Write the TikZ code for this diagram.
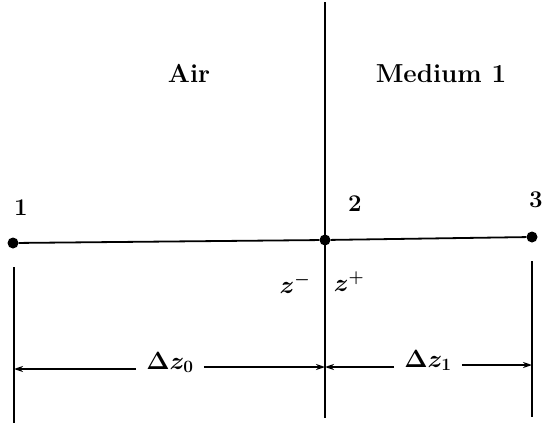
\documentclass[tikz,border=0pt]{standalone}
\usetikzlibrary{arrows.meta}
\begin{document}
\begin{tikzpicture}[x=1pt,y=-1pt,
  lbl/.style={inner sep=0pt,font=\fontsize{26}{30}\selectfont\bfseries},
  num/.style={inner sep=0pt,font=\fontsize{24}{28}\selectfont\bfseries},
  mth/.style={inner sep=0pt,font=\fontsize{25}{28}\selectfont\boldmath},
  dotp/.style={circle,fill=black,inner sep=0pt,minimum size=11pt},
  thick line/.style={line width=2.4pt},
  thin line/.style={line width=1.8pt},
  dim/.style={line width=1.5pt,-{Stealth[length=9pt,width=6pt]}}]
\useasboundingbox (0,0) rectangle (544,423);
% main interface line
\coordinate (top) at (325,2);
\coordinate (bot) at (325,418);
\draw[thick line] (top) -- (bot);
% points
\node[dotp] (p1) at (13,243) {};
\node[dotp] (p2) at (325,240) {};
\node[dotp] (p3) at (532,237) {};
\draw[thin line] (p1) -- (p2) -- (p3);
\node[num] (n1) at (21,208) {1};
\node[num] (n2) at (355,204) {2};
\node[num] (n3) at (536,200) {3};
% media labels
\node[lbl,anchor=base] (air) at (189,82) {Air};
\node[lbl,anchor=base] (med) at (441,82) {Medium 1};
% z labels
\node[mth] (zm) at (295,284) {$z^-$};
\node[mth] (zp) at (349,282) {$z^+$};
% lower vertical lines
\coordinate (l1) at (14,267);
\coordinate (l2) at (14,423);
\coordinate (r1) at (532,261);
\coordinate (r2) at (532,417);
\draw[thin line] (l1) -- (l2);
\draw[thin line] (r1) -- (r2);
% dimension labels
\node[mth,anchor=base] (d0) at (170,369) {$\Delta z_0$};
\node[mth,anchor=base] (d1) at (428,367) {$\Delta z_1$};
\coordinate (a0l) at (14,369);
\coordinate (a0r) at (325,367);
\coordinate (a1l) at (325,367);
\coordinate (a1r) at (532,365);
\draw[dim] (d0.west |- a0l) ++(-10,0) -- (a0l);
\draw[dim] (d0.east |- a0r) ++(10,0) -- (a0r);
\draw[dim] (d1.west |- a1l) ++(-10,0) -- (a1l);
\draw[dim] (d1.east |- a1r) ++(10,0) -- (a1r);
\end{tikzpicture}
\end{document}
